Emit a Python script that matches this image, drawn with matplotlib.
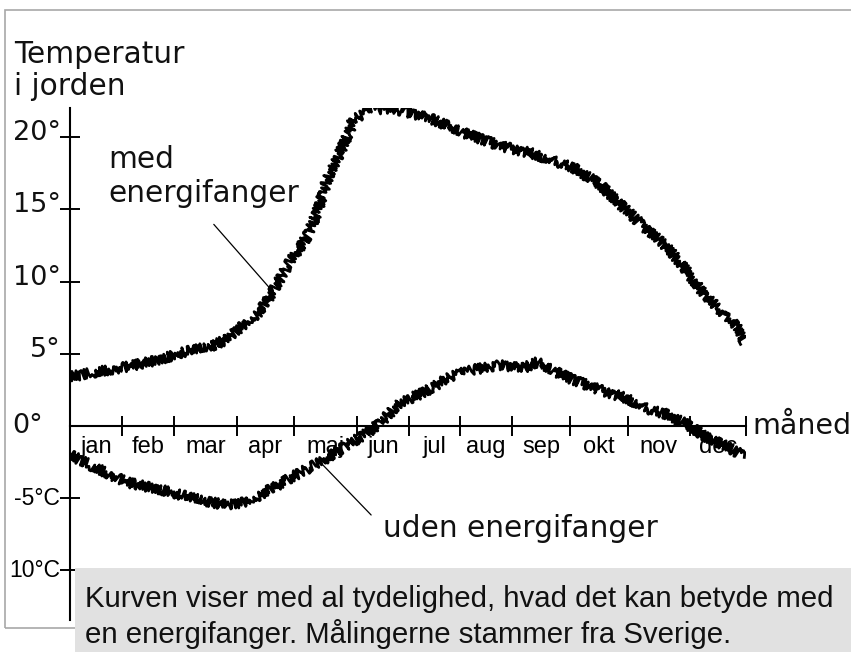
import matplotlib
matplotlib.use('Agg')
import matplotlib.pyplot as plt
from matplotlib.patches import Rectangle

# soil temperature over the year (month, degC)
med_month = [0.0, 0.41, 1.01, 1.60, 2.01, 2.49, 2.79, 3.14, 3.37, 3.60, 3.91, 4.21,
             4.38, 4.56, 4.79, 4.97, 5.02, 5.38, 5.68, 5.98, 6.39, 6.98, 7.63, 8.17,
             8.93, 9.41, 9.94, 10.30, 10.65, 11.01, 11.24, 11.54, 11.84, 11.98]
med_temp = [3.4, 3.7, 4.1, 4.6, 5.1, 5.5, 6.0, 7.2, 7.9, 9.3, 11.4, 13.1,
            14.7, 17.0, 18.9, 20.5, 21.2, 21.9, 22.0, 21.7, 21.3, 20.3, 19.4, 18.9,
            17.9, 16.7, 14.7, 13.4, 12.2, 10.4, 9.2, 8.0, 6.9, 5.8]

uden_month = [0.0, 0.41, 1.01, 1.60, 2.18, 2.79, 3.07, 3.37, 3.96, 4.44, 4.85, 5.27,
              5.50, 5.86, 6.27, 6.75, 7.15, 7.63, 8.04, 8.29, 8.65, 8.93, 9.41, 9.89,
              10.24, 10.60, 10.95, 11.31, 11.59, 11.98]
uden_temp = [-2.0, -2.8, -3.9, -4.4, -5.0, -5.5, -5.3, -4.8, -3.5, -2.5, -1.5, -0.5,
             0.2, 1.6, 2.3, 3.4, 3.9, 4.2, 4.0, 4.4, 3.7, 3.2, 2.5, 1.9,
             1.2, 0.8, 0.1, -0.8, -1.3, -2.1]

month_ticks = [0.92, 1.85, 2.96, 3.98, 5.09, 6.02, 6.92, 7.85, 8.88, 9.91, 11.0, 12.0]
month_names = ['jan', 'feb', 'mar', 'apr', 'maj', 'jun', 'jul', 'aug', 'sep', 'okt', 'nov', 'dec']
y_ticks = [20, 15, 10, 5, -5, -10]
y_labels = ['20°', '15°', '10°', '5°', '-5°C', '10°C']

W, H = 851, 652

def fx(px):
    return px / W

def fy(py):
    return 1 - py / H

fig = plt.figure(figsize=(W / 100, H / 100), dpi=100)
fig.patch.set_facecolor('white')

# outer grey frame and caption box
fig.add_artist(Rectangle((fx(5), fy(628)), fx(900), fy(10) - fy(628), transform=fig.transFigure,
                         fill=False, edgecolor='#a8a8a8', lw=1.2, zorder=0.5))
fig.add_artist(Rectangle((fx(75), 0), 1, fy(568), transform=fig.transFigure,
                         facecolor='#e1e1e1', edgecolor='none', zorder=2))

ax = fig.add_axes([fx(70), fy(620), 676 / W, 512 / H])
ax.set_xlim(0, 12)
ax.set_ylim(-13.43, 22.01)
ax.patch.set_visible(False)
for s in ['top', 'right']:
    ax.spines[s].set_visible(False)
for s in ['left', 'bottom']:
    ax.spines[s].set_position(('data', 0))
    ax.spines[s].set_linewidth(1.5)

ax.set_xticks(month_ticks)
ax.set_xticklabels([])
mids = [(a + b) / 2 for a, b in zip([0] + month_ticks[:-1], month_ticks)]
ax.set_xticks(mids, minor=True)
ax.set_xticklabels(month_names, minor=True, fontfamily='Liberation Sans', fontsize=17)
ax.tick_params(axis='x', which='major', direction='inout', length=15, width=1.4)
ax.tick_params(axis='x', which='minor', length=0, pad=7)
ax.set_yticks(y_ticks)
ax.set_yticklabels([])
ax.tick_params(axis='y', direction='inout', length=14, width=1.4)

l1, = ax.plot(med_month, med_temp, color='black', lw=2.0)
l2, = ax.plot(uden_month, uden_temp, color='black', lw=2.0)
for ln in (l1, l2):
    ln.set_sketch_params(scale=5, length=1.5, randomness=2)

# leader lines from the labels to the curves
ax.annotate('', xy=(med_month[9], med_temp[9]), xytext=(2.52, 14.1),
            arrowprops=dict(arrowstyle='-', lw=0.9, color='black'))
ax.annotate('', xy=(uden_month[9], uden_temp[9]), xytext=(5.38, -6.3),
            arrowprops=dict(arrowstyle='-', lw=0.9, color='black'))

big = dict(family='DejaVu Sans', fontsize=21.3, color='#111111')
fig.text(fx(14), fy(63), 'Temperatur', va='baseline', ha='left', **big)
fig.text(fx(14), fy(95), 'i jorden', va='baseline', ha='left', **big)
fig.text(fx(108), fy(168), 'med', va='baseline', ha='left', **big)
fig.text(fx(108), fy(202), 'energifanger', va='baseline', ha='left', **big)
fig.text(fx(383), fy(537), 'uden energifanger', va='baseline', ha='left', **big)
fig.text(fx(752), fy(434), 'måned', va='baseline', ha='left', family='DejaVu Sans',
         fontsize=20.5, color='#111111')

# y labels sit just above their tick
for t, lab in zip(y_ticks, y_labels):
    if t > 0:
        ax.annotate(lab, xy=(0, t), xytext=(-9, 4), textcoords='offset pixels',
                    ha='right', va='center', fontfamily='DejaVu Sans', fontsize=19.5,
                    color='#111111')
    else:
        ax.annotate(lab, xy=(0, t), xytext=(-10, 0), textcoords='offset pixels',
                    ha='right', va='center', fontfamily='Liberation Sans', fontsize=16.5)
fig.text(fx(12), fy(426), '0°', ha='left', va='center', family='DejaVu Sans', fontsize=19.5,
         color='#111111')

cap = dict(family='Liberation Sans', fontsize=21.2, color='#111111', zorder=3)
fig.text(fx(85), fy(607), 'Kurven viser med al tydelighed, hvad det kan betyde med',
         ha='left', va='baseline', **cap)
fig.text(fx(85), fy(643), 'en energifanger. Målingerne stammer fra Sverige.',
         ha='left', va='baseline', **cap)

fig.savefig('out.png', dpi=100)
